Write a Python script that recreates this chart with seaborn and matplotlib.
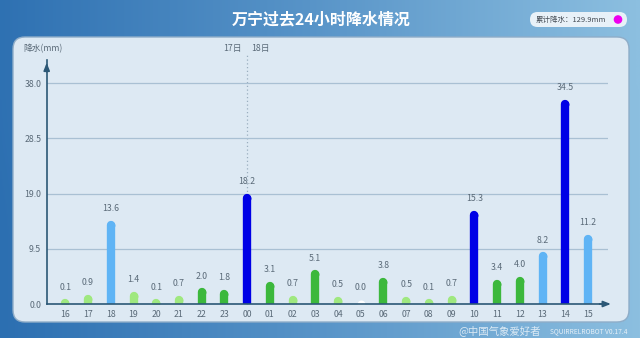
import numpy as np
import pandas as pd
import matplotlib
matplotlib.use("Agg")
import matplotlib.pyplot as plt
import seaborn as sns
from matplotlib.patches import FancyBboxPatch, Circle
from matplotlib.colors import LinearSegmentedColormap, to_hex

# ---------------- data ----------------
hours = ["16", "17", "18", "19", "20", "21", "22", "23",
         "00", "01", "02", "03", "04", "05", "06", "07",
         "08", "09", "10", "11", "12", "13", "14", "15"]
rain = [0.1, 0.9, 13.6, 1.4, 0.1, 0.7, 2.0, 1.8,
        18.2, 3.1, 0.7, 5.1, 0.5, 0.0, 3.8, 0.5,
        0.1, 0.7, 15.3, 3.4, 4.0, 8.2, 34.5, 11.2]
grade = ["l", "l", "b", "l", "l", "l", "g", "g",
         "d", "g", "l", "g", "l", "z", "g", "l",
         "l", "l", "d", "g", "g", "b", "d", "b"]
palette = {"z": "#ffffff", "l": "#9fe87f", "g": "#3cb83c",
           "b": "#5fb4f5", "d": "#0000e6"}
yticks = [0.0, 9.5, 19.0, 28.5, 38.0]
title = "万宁过去24小时降水情况"
total_label = "累计降水：129.9mm"
day_left, day_right = "17日", "18日"

plt.rcParams['font.family'] = ['Noto Sans CJK SC', 'DejaVu Sans']

W, H = 640, 338
fig = plt.figure(figsize=(W / 100, H / 100), dpi=100)

# background gradient
bg = fig.add_axes([0, 0, 1, 1], zorder=-10)
bg.set_axis_off()
cmap = LinearSegmentedColormap.from_list("bg", ["#2c6fb1", "#5894c8", "#8cbfe0"])
grad = np.linspace(0, 1, 256)[None, :]
grad = np.vstack([grad, grad * 0.97 + 0.03])
bg.imshow(grad, aspect="auto", cmap=cmap, extent=[0, W, 0, H])
bg.set_xlim(0, W)
bg.set_ylim(H, 0)

# panel
panel = FancyBboxPatch((13, 37), 616, 285, boxstyle="round,pad=0,rounding_size=12",
                       fc="#dde9f3", ec="#8fadc8", lw=1.0)
bg.add_patch(panel)

# legend box top right
lbox = FancyBboxPatch((530, 12), 97, 15, boxstyle="round,pad=0,rounding_size=7.5",
                      fc="#e8f1f8", ec="none")
bg.add_patch(lbox)
bg.text(536, 19.5, total_label, fontsize=5.4, color="#444c55", va="center", ha="left")
bg.add_patch(Circle((618, 19.5), 4.3, fc="#ee00ee", ec="none"))

# title
bg.text(321, 19, title, fontsize=11.5, color="white", ha="center", va="center",
        fontweight="bold")

# footer text
bg.text(627, 331, "SQUIRRELROBOT V0.17.4", fontsize=4.8, color="#e6f0f8",
        ha="right", va="center")
bg.text(541, 330.5, "@中国气象爱好者", fontsize=7.5, color="white", alpha=0.75,
        ha="right", va="center", zorder=20)

# ---------------- main axes ----------------
px0, px1 = 46.7, 608
py0, py1 = 304, 60
ax = fig.add_axes([px0 / W, (H - py0) / H, (px1 - px0) / W, (py0 - py1) / H])
ax.patch.set_alpha(0)

df = pd.DataFrame({"hour": hours, "rain": rain, "grade": grade})
sns.barplot(data=df, x="hour", y="rain", hue="grade", order=hours,
            palette=palette, dodge=False, width=0.3, legend=False, ax=ax,
            saturation=1, zorder=3)

# turn each seaborn bar into a thick line with a rounded cap
for p in list(ax.patches):
    xc = p.get_x() + p.get_width() / 2
    h = p.get_height()
    col = to_hex(p.get_facecolor())
    ax.plot([xc, xc], [0, h], color=col, lw=6.0, solid_capstyle="round",
            marker="o", markevery=[1], ms=5.7, mew=0, mfc=col, zorder=3)
    p.set_visible(False)

for c in ax.containers:
    ax.bar_label(c, fmt="{:.1f}", padding=8.5, fontsize=6.3, color="#5a6a78")

ax.set_xlim(-0.82, 23.88)
ax.set_ylim(0, 42)
ax.set_yticks(yticks)
ax.set_yticklabels([f"{v:.1f}" for v in yticks])
ax.grid(axis="y", color="#a9c0d3", lw=0.9, zorder=0)
ax.tick_params(axis="both", length=0, labelsize=6.3, labelcolor="#5a6a78")
ax.tick_params(axis="y", pad=4)
ax.tick_params(axis="x", pad=4)
ax.set_xlabel("")
ax.set_ylabel("")
for s in ["top", "right"]:
    ax.spines[s].set_visible(False)
for s in ["left", "bottom"]:
    ax.spines[s].set_color("#2c5876")
    ax.spines[s].set_linewidth(1.2)
    ax.spines[s].set_zorder(5)

# axis arrows
ax.annotate("", xy=(0, 1.0), xycoords="axes fraction", xytext=(0, 0.94),
            arrowprops=dict(arrowstyle="-|>,head_width=0.18,head_length=0.45",
                            color="#2c5876", lw=1.2), annotation_clip=False)
ax.annotate("", xy=(1.01, 0), xycoords="axes fraction", xytext=(0.98, 0),
            arrowprops=dict(arrowstyle="-|>,head_width=0.18,head_length=0.45",
                            color="#2c5876", lw=1.2), annotation_clip=False)

# day divider
ax.plot([8, 8], [0, 42.9], ls=(0, (1, 2)), color="#9aaebf", lw=0.9,
        clip_on=False, zorder=1)
bg.text(242, 48.5, day_left, fontsize=6.3, color="#5a6a78", ha="right", va="center")
bg.text(251, 48.5, day_right, fontsize=6.3, color="#5a6a78", ha="left", va="center")
bg.text(23, 48.5, "降水(mm)", fontsize=6.3, color="#5a6a78", ha="left", va="center")

fig.savefig("out.png", dpi=100)
